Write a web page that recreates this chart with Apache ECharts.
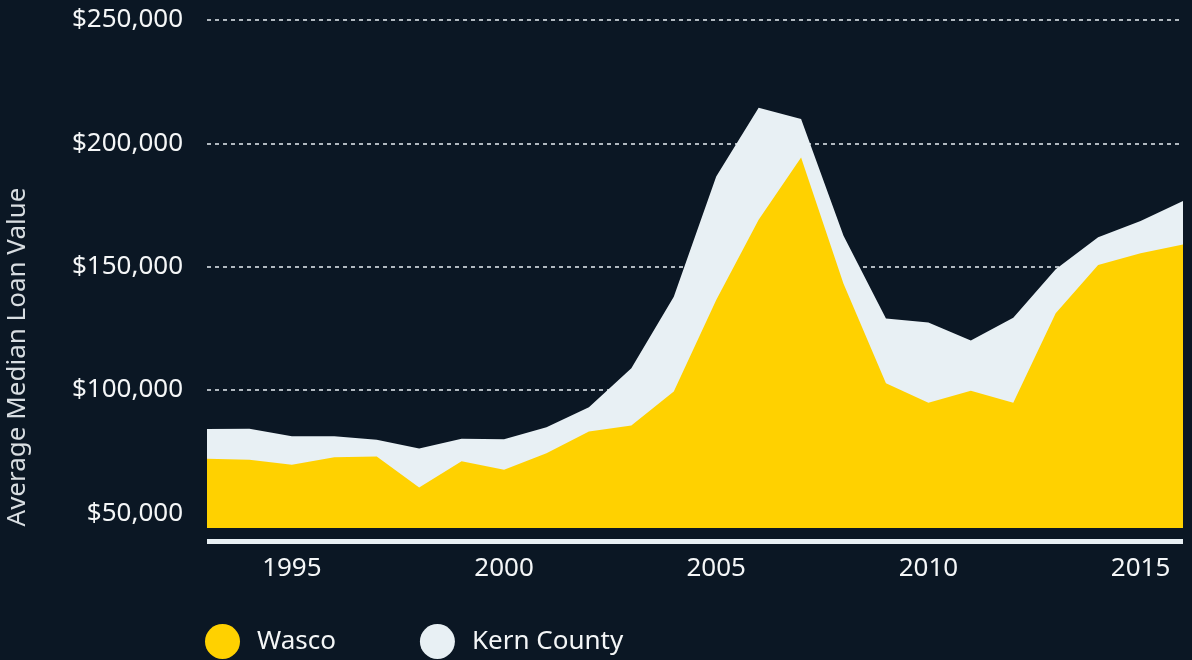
<!DOCTYPE html>
<html>
<head>
<meta charset="utf-8">
<script src="https://cdn.jsdelivr.net/npm/echarts@6/dist/echarts.min.js"></script>
<style>
  html, body { margin: 0; padding: 0; background: #0b1724; }
  #chart { width: 1192px; height: 660px; }
</style>
</head>
<body>
<div id="chart"></div>
<script>
// years on the x axis
const years = ['1993', '1994', '1995', '1996', '1997', '1998', '1999', '2000', '2001', '2002', '2003', '2004',
  '2005', '2006', '2007', '2008', '2009', '2010', '2011', '2012', '2013', '2014', '2015', '2016']

// average median loan value
const kernCounty = [84100, 84200, 81200, 81200, 79800, 76200, 80200, 80000, 84900, 93000, 108800, 137800,
  186500, 214400, 209900, 162500, 129000, 127300, 120000, 129300, 148900, 161900, 168500, 176600]
const wasco = [72100, 71700, 69600, 72700, 73000, 60400, 71100, 67600, 74300, 83100, 85600, 99400,
  136500, 169000, 194200, 143000, 102700, 94800, 99700, 94800, 131100, 150700, 155400, 159000]

// tick labels
const yTicks = [50000, 100000, 150000, 200000, 250000]
const xLabelYears = ['1995', '2000', '2005', '2010', '2015']

const font = 'Noto Sans'
const chart = echarts.init(document.getElementById('chart'))

const option = {
  backgroundColor: '#0b1724',
  animation: false,
  grid: {
    left: 207,
    right: 9,
    top: 20,
    bottom: 132,
    outerBoundsMode: 'none',
    containLabel: false
  },
  legend: {
    data: ['Wasco', 'Kern County'],
    left: 205,
    top: 624,
    padding: 0,
    icon: 'circle',
    itemWidth: 35,
    itemHeight: 35,
    itemGap: 84,
    textStyle: {
      color: '#f4f6f7',
      fontFamily: font,
      fontSize: 26,
      padding: [2, 0, 0, 12]
    }
  },
  xAxis: {
    type: 'category',
    data: years,
    boundaryGap: false,
    offset: 13,
    axisLine: {
      lineStyle: { color: '#e8f0f4', width: 5, cap: 'butt' }
    },
    axisTick: { show: false },
    splitLine: { show: false },
    axisLabel: {
      interval: (i, v) => xLabelYears.includes(v),
      color: '#f4f6f7',
      fontFamily: font,
      fontSize: 26,
      margin: 15
    }
  },
  yAxis: {
    type: 'value',
    min: 44000,
    max: 250000,
    name: 'Average Median Loan Value',
    nameLocation: 'middle',
    nameGap: 176,
    nameRotate: 90,
    nameTextStyle: {
      color: '#d8dde1',
      fontFamily: font,
      fontSize: 26,
      padding: [0, 166, 0, 0]
    },
    axisLine: { show: false },
    axisTick: { show: false, customValues: yTicks },
    axisLabel: {
      customValues: yTicks,
      color: '#f4f6f7',
      fontFamily: font,
      fontSize: 26,
      margin: 24,
      formatter: (v) => '$' + v.toLocaleString('en-US')
    },
    splitLine: {
      lineStyle: { color: '#e8eef2', width: 1.5, type: [4, 4] }
    }
  },
  series: [
    {
      name: 'Kern County',
      type: 'line',
      data: kernCounty,
      symbol: 'none',
      lineStyle: { width: 0 },
      itemStyle: { color: '#e8f0f4' },
      areaStyle: { color: '#e8f0f4', opacity: 1 },
      z: 2
    },
    {
      name: 'Wasco',
      type: 'line',
      data: wasco,
      symbol: 'none',
      lineStyle: { width: 0 },
      itemStyle: { color: '#ffd100' },
      areaStyle: { color: '#ffd100', opacity: 1 },
      z: 3
    }
  ]
}

chart.setOption(option)
window.addEventListener('resize', () => chart.resize())
</script>
</body>
</html>
